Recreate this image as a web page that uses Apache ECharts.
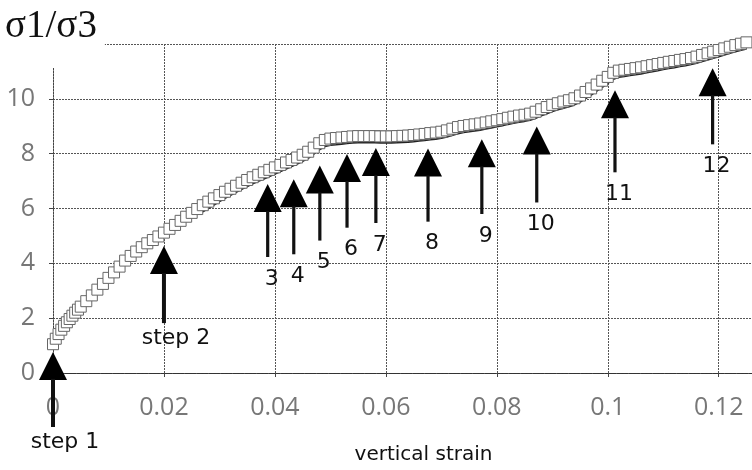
<!DOCTYPE html>
<html>
<head>
<meta charset="utf-8">
<script src="https://cdn.jsdelivr.net/npm/echarts@6/dist/echarts.min.js"></script>
<style>
  html, body { margin: 0; padding: 0; background: #fff; }
  #view { width: 752px; height: 470px; }
</style>
</head>
<body>
<div id="view"></div>
<script>
// vertical strain vs principal stress ratio
const strain = [
  0, 0.0005, 0.001, 0.0015, 0.002, 0.0025, 0.003, 0.0035, 0.004, 0.0045, 0.005,
  0.006, 0.007, 0.008, 0.009, 0.010, 0.011, 0.012, 0.013, 0.014, 0.015,
  0.016, 0.017, 0.018, 0.019, 0.020, 0.021, 0.022, 0.023, 0.024, 0.025,
  0.026, 0.027, 0.028, 0.029, 0.030, 0.031, 0.032, 0.033, 0.034, 0.035,
  0.036, 0.037, 0.038, 0.039, 0.040, 0.041, 0.042, 0.043, 0.044, 0.045,
  0.046, 0.047, 0.048, 0.049, 0.050, 0.051, 0.052, 0.053, 0.054, 0.055,
  0.056, 0.057, 0.058, 0.059, 0.060, 0.061, 0.062, 0.063, 0.064, 0.065,
  0.066, 0.067, 0.068, 0.069, 0.070, 0.071, 0.072, 0.073, 0.074, 0.075,
  0.076, 0.077, 0.078, 0.079, 0.080, 0.081, 0.082, 0.083, 0.084, 0.085,
  0.086, 0.087, 0.088, 0.089, 0.090, 0.091, 0.092, 0.093, 0.094, 0.095,
  0.096, 0.097, 0.098, 0.099, 0.100, 0.101, 0.102, 0.103, 0.104, 0.105,
  0.106, 0.107, 0.108, 0.109, 0.110, 0.111, 0.112, 0.113, 0.114, 0.115,
  0.116, 0.117, 0.118, 0.119, 0.120, 0.121, 0.122, 0.123, 0.124, 0.125
];
const ratio = [
  1.05, 1.25, 1.42, 1.58, 1.72, 1.85, 1.97, 2.09, 2.20, 2.31, 2.42,
  2.62, 2.83, 3.04, 3.25, 3.47, 3.67, 3.88, 4.10, 4.27, 4.43,
  4.59, 4.73, 4.85, 4.98, 5.12, 5.26, 5.40, 5.55, 5.70, 5.84,
  5.98, 6.12, 6.25, 6.37, 6.49, 6.61, 6.72, 6.83, 6.94, 7.04,
  7.14, 7.23, 7.32, 7.41, 7.50, 7.59, 7.68, 7.77, 7.86, 7.96,
  8.07, 8.22, 8.38, 8.50, 8.55, 8.57, 8.59, 8.61, 8.63, 8.64,
  8.64, 8.64, 8.64, 8.63, 8.63, 8.63, 8.64, 8.65, 8.66, 8.68,
  8.70, 8.72, 8.75, 8.77, 8.80, 8.85, 8.91, 8.97, 9.01, 9.04,
  9.07, 9.10, 9.14, 9.18, 9.22, 9.26, 9.31, 9.35, 9.39, 9.42,
  9.46, 9.53, 9.62, 9.70, 9.78, 9.84, 9.90, 9.95, 10.02, 10.12,
  10.25, 10.38, 10.52, 10.66, 10.80, 10.95, 11.03, 11.06, 11.09, 11.12,
  11.15, 11.19, 11.23, 11.27, 11.31, 11.35, 11.38, 11.42, 11.45, 11.49,
  11.54, 11.60, 11.66, 11.72, 11.78, 11.84, 11.90, 11.96, 12.01, 12.06
];

// loading steps marked by arrows: strain, arrow tip, arrow tail (in ratio units)
const stepLabels = ["step 1", "step 2", "3", "4", "5", "6", "7", "8", "9", "10", "11", "12"];
const stepStrain = [0, 0.02, 0.0387, 0.0434, 0.0481, 0.053, 0.0582, 0.0676, 0.0773, 0.0872, 0.1013, 0.1189];
const stepTip = [0.77, 4.63, 6.89, 7.07, 7.57, 7.99, 8.21, 8.19, 8.53, 8.99, 10.31, 11.12];
const stepTail = [-1.97, 1.82, 4.23, 4.33, 4.83, 5.30, 5.47, 5.52, 5.80, 6.22, 7.32, 8.34];

const xTicks = { min: 0, max: 0.126, interval: 0.02 };
const yTicks = { min: 0, max: 12, interval: 2 };

let points = strain.map((s, i) => [s, ratio[i]]);
let edgePoints = points.filter((p) => p[0] >= 0.027);
let arrows = stepStrain.map((s, i) => [s, stepTip[i], stepTail[i]]);

let myChart = echarts.init(document.getElementById("view"));

let gridLine = { color: "#555", width: 1, type: [2, 1] };

let option = {
  backgroundColor: "#fff",
  animation: false,
  title: {
    text: "σ1/σ3",
    left: 0,
    top: 0,
    padding: [7, 8, 22, 5],
    backgroundColor: "#fff",
    textStyle: {
      fontFamily: "Liberation Serif",
      fontSize: 39,
      fontWeight: "normal",
      color: "#111",
    },
  },
  grid: {
    left: 53,
    right: 0,
    top: 44,
    bottom: 97,
  },
  xAxis: {
    type: "value",
    min: xTicks.min,
    max: xTicks.max,
    interval: xTicks.interval,
    name: "vertical strain",
    nameLocation: "middle",
    nameGap: 72,
    nameTextStyle: {
      fontFamily: "DejaVu Sans",
      fontSize: 20,
      color: "#111",
      padding: [0, 0, 0, 42],
    },
    axisLine: { lineStyle: { color: "#333", width: 1.2, type: [3, 1] } },
    axisTick: { show: true, length: 4, lineStyle: { color: "#444" } },
    axisLabel: {
      margin: 22,
      showMaxLabel: false,
      fontFamily: "Open Sans",
      fontSize: 25,
      color: "#777",
      formatter: (v) => String(+v.toFixed(3)),
    },
    splitLine: { show: true, lineStyle: gridLine },
  },
  yAxis: {
    type: "value",
    min: yTicks.min,
    max: yTicks.max,
    interval: yTicks.interval,
    axisLine: { show: true, lineStyle: { color: "#444", width: 1, type: [2, 1] } },
    axisTick: { show: true, length: 4, lineStyle: { color: "#444" } },
    axisLabel: {
      margin: 18,
      showMaxLabel: false,
      fontFamily: "Open Sans",
      fontSize: 25,
      color: "#777",
    },
    splitLine: { show: true, lineStyle: gridLine },
  },
  series: [
    {
      // dark lower edge of the marker band
      name: "edge",
      type: "line",
      data: edgePoints,
      showSymbol: false,
      clip: false,
      z: 2,
      lineStyle: {
        color: "#222",
        width: 1.8,
        shadowColor: "#222",
        shadowBlur: 0,
        shadowOffsetY: 6.5,
      },
    },
    {
      name: "σ1/σ3",
      type: "scatter",
      data: points,
      symbol: "rect",
      symbolSize: 11,
      clip: false,
      z: 3,
      itemStyle: {
        color: "#fff",
        borderColor: "#666",
        borderWidth: 1,
        opacity: 1,
      },
    },
    {
      name: "steps",
      type: "custom",
      data: arrows,
      clip: false,
      z: 5,
      renderItem: (params, api) => {
        let tip = api.coord([api.value(0), api.value(1)]);
        let tail = api.coord([api.value(0), api.value(2)]);
        let label = stepLabels[params.dataIndex];
        let isStep = label.indexOf("step") === 0;
        let head = 28;
        let half = 14;
        let shaft = isStep ? 4 : 3.2;
        return {
          type: "group",
          children: [
            {
              type: "polygon",
              shape: {
                points: [
                  [tip[0], tip[1]],
                  [tip[0] - half, tip[1] + head],
                  [tip[0] + half, tip[1] + head],
                ],
              },
              style: { fill: "#000" },
            },
            {
              type: "rect",
              shape: {
                x: tip[0] - shaft / 2,
                y: tip[1] + head - 1,
                width: shaft,
                height: tail[1] - tip[1] - head + 1,
              },
              style: { fill: "#111" },
            },
            {
              type: "text",
              style: {
                text: label,
                x: tip[0] + (isStep ? 12 : 4),
                y: tail[1] + (isStep ? 15 : 22),
                align: "center",
                verticalAlign: "middle",
                fontFamily: "DejaVu Sans",
                fontSize: 22,
                fill: "#111",
              },
            },
          ],
        };
      },
    },
  ],
};
myChart.setOption(option);
</script>
</body>
</html>
